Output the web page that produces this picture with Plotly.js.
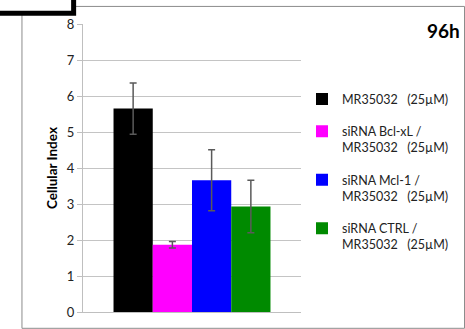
<!DOCTYPE html>
<html>
<head>
<meta charset="utf-8">
<script src="https://cdn.plot.ly/plotly-3.0.1.min.js"></script>
<style>html,body{margin:0;padding:0;background:#fff;}#chart{width:465px;height:329px;}</style>
</head>
<body>
<div id="chart"></div>
<script>
// Data
var seriesNames = [
  'MR35032\u00a0\u00a0\u00a0(25\u00b5M)',
  'siRNA Bcl-xL /<br>MR35032\u00a0\u00a0\u00a0(25\u00b5M)',
  'siRNA Mcl-1 /<br>MR35032\u00a0\u00a0\u00a0(25\u00b5M)',
  'siRNA CTRL /<br>MR35032\u00a0\u00a0\u00a0(25\u00b5M)'
];
var category = ['96h'];
var values = [5.65, 1.87, 3.66, 2.93];
var errors = [0.71, 0.09, 0.85, 0.73];
var yTicks = [0, 1, 2, 3, 4, 5, 6, 7, 8];

// Styles
var colors = ['#000000', '#ff00ff', '#0000ff', '#008a00'];
var FONT = 'Lato, "Open Sans", sans-serif';

var traces = seriesNames.map(function (name, i) {
  return {
    type: 'bar',
    name: name,
    x: category,
    y: [values[i]],
    legendgroup: 'g' + i,
    marker: {color: colors[i], line: {width: 0}},
    error_y: {type: 'data', array: [errors[i]], visible: true, color: '#5a5a5a', thickness: 1.5, width: 3.5}
  };
});

var frameColor = '#8c8c8c';
var layout = {
  width: 465,
  height: 329,
  margin: {l: 83, r: 163, t: 24, b: 17, pad: 0},
  paper_bgcolor: '#ffffff',
  plot_bgcolor: '#ffffff',
  font: {family: FONT, size: 12, color: '#222222'},
  barmode: 'group',
  bargap: 0.28,
  bargroupgap: 0,
  showlegend: true,
  legend: {
    x: 1.0, xanchor: 'left', y: 0.79, yanchor: 'top',
    valign: 'top',
    tracegroupgap: 13,
    font: {family: FONT, size: 12.5, color: '#222222'},
    bgcolor: 'rgba(0,0,0,0)'
  },
  xaxis: {
    type: 'category',
    showticklabels: false,
    ticks: '',
    showgrid: false,
    showline: true,
    linecolor: '#bfbfbf',
    linewidth: 1,
    fixedrange: true
  },
  yaxis: {
    range: [0, 8],
    tickvals: yTicks,
    ticktext: yTicks.map(String),
    ticks: 'outside',
    ticklen: 5,
    tickcolor: '#bfbfbf',
    tickfont: {family: FONT, size: 13, color: '#222222'},
    showgrid: true,
    gridcolor: '#c4c4c4',
    gridwidth: 1,
    zeroline: false,
    showline: true,
    linecolor: '#bfbfbf',
    linewidth: 1,
    title: {text: '<b>Cellular Index</b>', font: {family: FONT, size: 13.5, color: '#000000'}, standoff: 6},
    fixedrange: true
  },
  annotations: [{
    text: '<b>96h</b>',
    xref: 'paper', yref: 'paper',
    x: 1.737, y: 0.978, xanchor: 'right', yanchor: 'middle',
    showarrow: false,
    font: {family: FONT, size: 19, color: '#000000'}
  }],
  shapes: [
    {type: 'rect', xref: 'paper', yref: 'paper', x0: -0.28, x1: 1.75, y0: -0.0566, y1: 1.061,
     line: {color: frameColor, width: 1}, fillcolor: 'rgba(0,0,0,0)', layer: 'below'},
    {type: 'rect', xref: 'paper', yref: 'paper', x0: -0.5, x1: -0.043, y0: 1.037, y1: 1.2,
     line: {color: '#000000', width: 5}, fillcolor: '#ffffff', layer: 'above'}
  ]
};

Plotly.newPlot('chart', traces, layout, {displayModeBar: false, staticPlot: true});
</script>
</body>
</html>
